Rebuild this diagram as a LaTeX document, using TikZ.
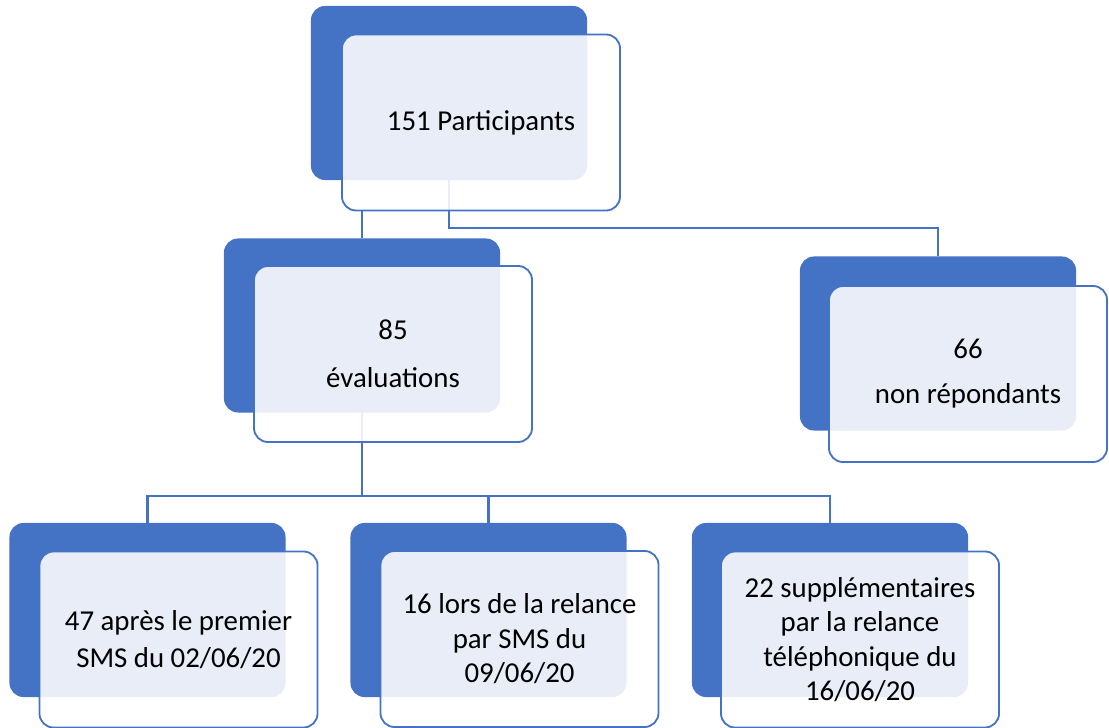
\documentclass[tikz,border=0pt]{standalone}
\usepackage{fontspec}
\setmainfont{Carlito}
\usepackage{tikz}
\usetikzlibrary{calc}
\definecolor{smblue}{HTML}{4472C4}

\begin{document}
\begin{tikzpicture}[x=0.025cm, y=-0.025cm,
  back/.style={fill=smblue, rounded corners=10pt, minimum width=6.9cm, minimum height=4.35cm, inner sep=0pt},
  front/.style={draw=smblue, line width=1.3pt, fill=white, fill opacity=0.88, text opacity=1, rounded corners=10pt,
    minimum width=6.95cm, minimum height=4.4cm, inner sep=0pt, align=center, font=\fontsize{20.5}{24.5}\selectfont},
  link/.style={draw=smblue, line width=1.7pt}]
\useasboundingbox (0,0) rectangle (1109,728);

\node(b0)[back] at (449,93) {};
\node(b1)[back] at (362,325.5) {};
\node(b2)[back] at (938,343.5) {};
\node(b3)[back] at (147.5,610) {};
\node(b4)[back] at (488.5,610) {};
\node(b5)[back] at (830,610) {};

\begin{scope}[link]
\draw (b0.south) -- ++(0,48) -| (b2.north);
\draw (b1.south) -- ++(0,83) -| (b3.north);
\draw (b1.south) -- ++(0,83) -| (b4.north);
\draw (b1.south) -- ++(0,83) -| (b5.north);
\end{scope}

\node(p0)[front] at (481,122.5) {151 Participants};
\node(p1)[front] at (393,354) {85\\[9.5pt]évaluations};
\node(p2)[front] at (968,374) {66\\[7.5pt]non répondants};
\node(p3)[front] at (178.5,639.5) {47 après le premier\\[1.5pt]SMS du 02/06/20};
\node(p4)[front] at (519.5,639) {16 lors de la relance\\par SMS du\\09/06/20};
\node(p5)[front] at (860,639.5) {22 supplémentaires\\par la relance\\téléphonique du\\16/06/20};

\draw[link] (p0.south -| b1.north) -- (b1.north);
\end{tikzpicture}
\end{document}
